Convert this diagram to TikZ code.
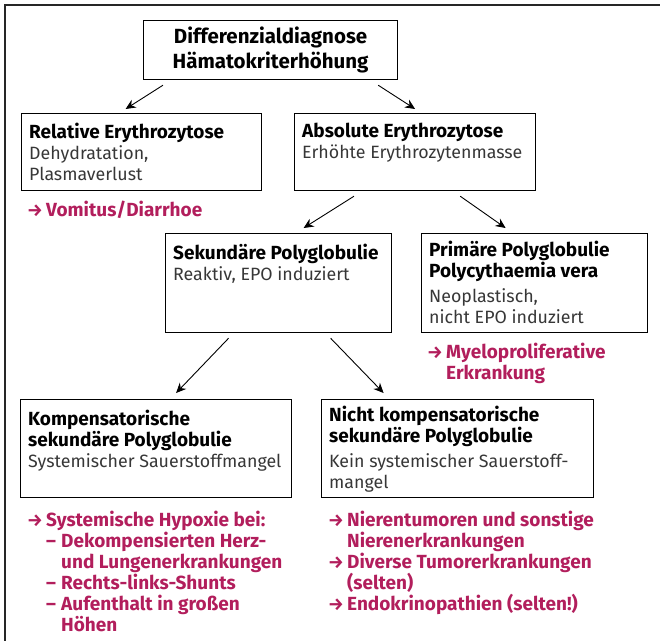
\documentclass[tikz,border=0pt]{standalone}
\usepackage{fontspec}
\setmainfont{Fira Sans}
\usepackage{tikz}
\usetikzlibrary{arrows.meta,positioning,calc}
\definecolor{hintred}{RGB}{178,30,92}
\definecolor{bodygray}{RGB}{55,55,55}

% headings inside the boxes
\newcommand{\hd}[1]{{\fontsize{19}{21}\selectfont\bfseries\color{black}#1}}
% list markers for the red hints
\newcommand{\hintarrow}{\makebox[19pt][l]{\fontsize{17.5}{21}\selectfont →}}
\newcommand{\hintdash}{\hspace*{19pt}\makebox[15pt][l]{–}}
\newcommand{\hintgap}[1]{\hspace*{#1}}

\begin{document}
\begin{tikzpicture}[
    x=1pt, y=-1pt,
    box/.style={draw=black, line width=1.2pt, anchor=north west, inner sep=0pt},
    txt/.style={anchor=north west, align=left, inner sep=0pt, text=bodygray,
        font=\fontsize{17.8}{21}\selectfont},
    hint/.style={anchor=north west, align=left, inner sep=0pt, text=hintred,
        font=\fontsize{19}{21}\selectfont\bfseries},
    arr/.style={-{Stealth[length=10pt,width=9pt]}, line width=0.9pt},
    frame/.style={line width=2pt, draw=black!85}
]
    \useasboundingbox (0,0) rectangle (660,641);
    % Frame (only top and left edge)
    \draw[frame] (660,5) -- (5,5) -- (5,641);

    % Boxes
    \node[box, minimum width=254, minimum height=59, align=center,
        font=\fontsize{20.5}{25}\selectfont\bfseries] (diag) at (143,20)
        {Differenzialdiagnose\\Hämatokriterhöhung};
    \node[box, minimum width=240, minimum height=77] (rel) at (21,113) {};
    \node[box, minimum width=241, minimum height=77] (abs) at (294,113) {};
    \node[box, minimum width=226, minimum height=99] (sek) at (165,233) {};
    \node[box, minimum width=226, minimum height=99] (prim) at (421,233) {};
    \node[box, minimum width=271, minimum height=98] (komp) at (20,399) {};
    \node[box, minimum width=272, minimum height=98] (nicht) at (321,399) {};

    % Box texts
    \node[txt] (relT) at ($(rel.north west)+(8,10)$)
        {\hd{Relative Erythrozytose}\\Dehydratation,\\Plasmaverlust};
    \node[txt] (absT) at ($(abs.north west)+(8,10)$)
        {\hd{Absolute Erythrozytose}\\Erhöhte Erythrozytenmasse};
    \node[txt] (sekT) at ($(sek.north west)+(8,11)$)
        {\hd{Sekundäre Polyglobulie}\\Reaktiv, EPO induziert};
    \node[txt] (primT) at ($(prim.north west)+(8,8)$)
        {\hd{Primäre Polyglobulie}\\\hd{Polycythaemia vera}\\[4pt]Neoplastisch,\\nicht EPO induziert};
    \node[txt] (kompT) at ($(komp.north west)+(8,11)$)
        {\hd{Kompensatorische}\\\hd{sekundäre Polyglobulie}\\Systemischer Sauerstoffmangel};
    \node[txt] (nichtT) at ($(nicht.north west)+(8,7)$)
        {\hd{Nicht kompensatorische}\\\hd{sekundäre Polyglobulie}\\[4pt]Kein systemischer Sauerstoff-\\mangel};

    % Red hints
    \node[hint] (vom) at ($(rel.south west)+(6,10)$) {\hintarrow Vomitus/Diarrhoe};
    \node[hint] (myelo) at ($(prim.south west)+(6,10)$)
        {\hintarrow Myeloproliferative\\\hintgap{19pt}Erkrankung};
    \node[hint] (kompH) at ($(komp.south west)+(7,13)$)
        {\hintarrow Systemische Hypoxie bei:\\
         \hintdash Dekompensierten Herz-\\
         \hintgap{34pt}und Lungenerkrankungen\\
         \hintdash Rechts-links-Shunts\\
         \hintdash Aufenthalt in großen\\
         \hintgap{34pt}Höhen};
    \node[hint] (nichtH) at ($(nicht.south west)+(7,13)$)
        {\hintarrow Nierentumoren und sonstige\\
         \hintgap{19pt}Nierenerkrankungen\\
         \hintarrow Diverse Tumorerkrankungen\\
         \hintgap{19pt}(selten)\\
         \hintarrow Endokrinopathien (selten!)};

    % Arrows
    \draw[arr] ($(diag.south west)+(20,5)$) -- ($(rel.north)+(-16,-4)$);
    \draw[arr] ($(diag.south east)+(-20,5)$) -- ($(abs.north)+(0,-4)$);
    \draw[arr] ($(abs.south west)+(60,5)$) -- ($(sek.north)+(25,-5)$);
    \draw[arr] ($(abs.south east)+(-76,5)$) -- ($(prim.north)+(-29,-5)$);
    \draw[arr] ($(sek.south)+(-50,5)$) -- ($(komp.north)+(20,-6)$);
    \draw[arr] ($(sek.south)+(52,5)$) -- ($(nicht.north)+(-74,-6)$);
\end{tikzpicture}
\end{document}
